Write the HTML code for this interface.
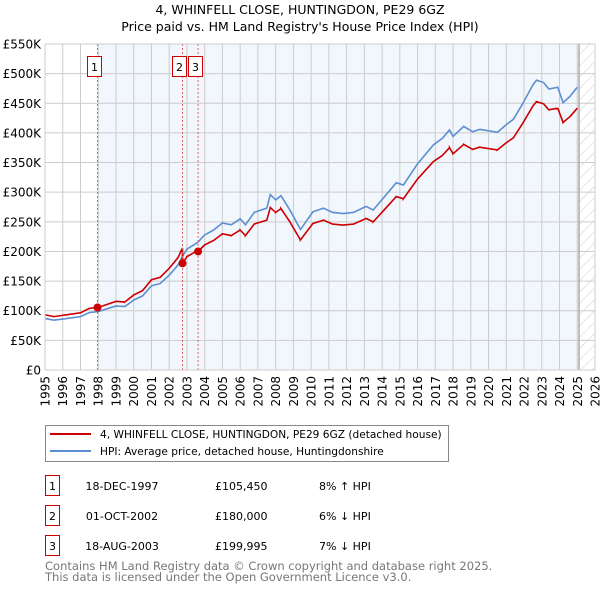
<!DOCTYPE html>
<html><head><meta charset="utf-8">
<style>
body{margin:0;background:#fff;font-family:"DejaVu Sans","Liberation Sans",sans-serif;}
svg text{font-family:"DejaVu Sans","Liberation Sans",sans-serif;}
</style></head>
<body>
<svg id="chart" width="600" height="590" viewBox="0 0 600 590" xmlns="http://www.w3.org/2000/svg">
<defs>
<pattern id="hatch" patternUnits="userSpaceOnUse" width="8" height="8" patternTransform="rotate(45)">
<line x1="0" y1="0" x2="0" y2="8" stroke="#ccc" stroke-width="1"/>
</pattern>
</defs>
<text x="300" y="14" text-anchor="middle" font-size="12.5">4, WHINFELL CLOSE, HUNTINGDON, PE29 6GZ</text>
<text x="300" y="31" text-anchor="middle" font-size="12.5">Price paid vs. HM Land Registry's House Price Index (HPI)</text>
<g id="plot"></g>
<g>
<rect x="45.5" y="425.5" width="403" height="36" fill="#fff" stroke="#888"/>
<line x1="50" y1="434" x2="91" y2="434" stroke="#cc0000" stroke-width="2"/>
<text x="100" y="438" font-size="10.6">4, WHINFELL CLOSE, HUNTINGDON, PE29 6GZ (detached house)</text>
<line x1="50" y1="451" x2="91" y2="451" stroke="#5b8fd0" stroke-width="2"/>
<text x="100" y="455" font-size="10.6">HPI: Average price, detached house, Huntingdonshire</text>
</g>
<g id="table"></g>
<text x="45" y="570" font-size="11.5" fill="#777">Contains HM Land Registry data © Crown copyright and database right 2025.</text>
<text x="45" y="581" font-size="11.5" fill="#777">This data is licensed under the Open Government Licence v3.0.</text>
</svg>
<script>
const hpiYears=[1995,1995.5,1996,1997,1997.5,1998,1999,1999.5,2000,2000.5,2001,2001.5,2002,2002.5,2002.75,2003,2003.6,2004,2004.5,2005,2005.5,2006,2006.3,2006.8,2007.5,2007.7,2008,2008.3,2008.8,2009.4,2010.1,2010.7,2011.2,2011.8,2012.4,2013.1,2013.5,2013.9,2014.8,2015.2,2016,2016.9,2017.4,2017.8,2018,2018.6,2019.1,2019.5,2020.5,2021,2021.4,2021.9,2022.5,2022.7,2023.1,2023.4,2023.9,2024.2,2024.6,2025.0];
const hpiValues=[87,84,86,90,97,98.5,108,107,118,125,142,146,160,177,192,204,215,228,236,248,245,255,245,266,273,296,287,294,270,237,267,273,266,264,266,276,270,284,316,312,348,380,391,405,394,411,402,406,401,414,423,448,481,489,485,474,477,451,462,477];
const saleDates=[1997.96,2002.75,2003.63];
const salePrices=[105.45,180,199.995];
const saleLabels=["1","2","3"];
const saleDateText=["18-DEC-1997","01-OCT-2002","18-AUG-2003"];
const salePriceText=["£105,450","£180,000","£199,995"];
const saleDiffText=["8% ↑ HPI","6% ↓ HPI","7% ↓ HPI"];
const yTicks=[0,50,100,150,200,250,300,350,400,450,500,550];
const yTickLabels=["£0","£50K","£100K","£150K","£200K","£250K","£300K","£350K","£400K","£450K","£500K","£550K"];
const xTicks=[1995,1996,1997,1998,1999,2000,2001,2002,2003,2004,2005,2006,2007,2008,2009,2010,2011,2012,2013,2014,2015,2016,2017,2018,2019,2020,2021,2022,2023,2024,2025,2026];

const NS="http://www.w3.org/2000/svg";
const X0=45,X1=595,Y0=370,Y1=44;
const xs=t=>X0+(t-1995)/31*(X1-X0);
const ys=v=>Y0-v/550*(Y0-Y1);
function mk(tag,attrs,parent){const e=document.createElementNS(NS,tag);for(const k in attrs)e.setAttribute(k,attrs[k]);parent.appendChild(e);return e;}
function hpiAt(t){for(let i=0;i<hpiYears.length-1;i++){if(t<=hpiYears[i+1]){const f=(t-hpiYears[i])/(hpiYears[i+1]-hpiYears[i]);return hpiValues[i]+f*(hpiValues[i+1]-hpiValues[i]);}}return hpiValues[hpiValues.length-1];}
const plot=document.getElementById('plot');
const bg=mk('rect',{x:X0,y:Y1,width:X1-X0,height:Y0-Y1,fill:'#fff'},plot);


const sh=mk('rect',{x:xs(saleDates[0]),y:Y1,width:xs(2025.1)-xs(saleDates[0]),height:Y0-Y1,fill:'#f2f6fd'},plot);


const ht=mk('rect',{x:xs(2025.1),y:Y1,width:X1-xs(2025.1),height:Y0-Y1,fill:'url(#hatch)'},plot);


xTicks.forEach(t=>{const l=mk('line',{x1:xs(t),x2:xs(t),y1:Y1,y2:Y0,stroke:'#ccc','stroke-width':1},plot);


const tx=mk('text',{x:0,y:0,'font-size':12,'text-anchor':'end',transform:`translate(${xs(t)+4.5},${Y0+6}) rotate(-90)`},plot);tx.textContent=t;

});
yTicks.forEach((v,i)=>{const l=mk('line',{x1:X0,x2:X1,y1:ys(v),y2:ys(v),stroke:'#ccc','stroke-width':1},plot);


const tx=mk('text',{x:X0-4,y:ys(v)+4.5,'font-size':12,'text-anchor':'end'},plot);tx.textContent=yTickLabels[i];

});
const dl=mk('line',{x1:xs(2025.1),x2:xs(2025.1),y1:Y1,y2:Y0,stroke:'#999','stroke-width':1.2},plot);


const hp=mk('polyline',{points:hpiYears.map((t,i)=>xs(t)+','+ys(hpiValues[i])).join(' '),fill:'none',stroke:'#5b8fd0','stroke-width':1.6},plot);


function redAt(t){let k=0;for(let i=0;i<saleDates.length;i++)if(t>=saleDates[i])k=i;return salePrices[k]*hpiAt(t)/hpiAt(saleDates[k]);}
let pts=[];let ts=[...hpiYears,...saleDates].sort((a,b)=>a-b);
ts.forEach(t=>{pts.push(xs(t)+','+ys(redAt(t-1e-4>=1995?t-1e-4:t)));pts.push(xs(t)+','+ys(redAt(t)));});
const rp=mk('polyline',{points:pts.join(' '),fill:'none',stroke:'#cc0000','stroke-width':1.6},plot);


saleDates.forEach((d,i)=>{
const vl=mk('line',{x1:xs(d),x2:xs(d),y1:Y1,y2:Y0,stroke:'#e06060','stroke-width':1,'stroke-dasharray':'2,2'},plot);


const c=mk('circle',{cx:xs(d),cy:ys(salePrices[i]),r:4,fill:'#cc0000'},plot);


const bx=Math.round(xs(d)-10.5);
const b=mk('rect',{x:bx+0.5,y:56.5,width:14,height:20,fill:'#fff',stroke:'#cc0000'},plot);


const tx=mk('text',{x:bx+7.5,y:71,'font-size':11,'text-anchor':'middle'},plot);tx.textContent=saleLabels[i];


});
const bord=mk('rect',{x:X0,y:Y1,width:X1-X0,height:Y0-Y1,fill:'none',stroke:'#ccc'},plot);


const tb=document.getElementById('table');
saleLabels.forEach((s,i)=>{const y=476+i*30;
const r=mk('rect',{x:45.5,y:y-0.5,width:14,height:20,fill:'#fff',stroke:'#cc0000'},tb);


const cells=[[52.5,s,'middle'],[122,saleDateText[i],'middle'],[215,salePriceText[i],'start'],[319,saleDiffText[i],'start']];
cells.forEach(c=>{const t=mk('text',{x:c[0],y:y+14,'font-size':11,'text-anchor':c[2]},tb);t.textContent=c[1];

});
});
</script>
</body></html>
